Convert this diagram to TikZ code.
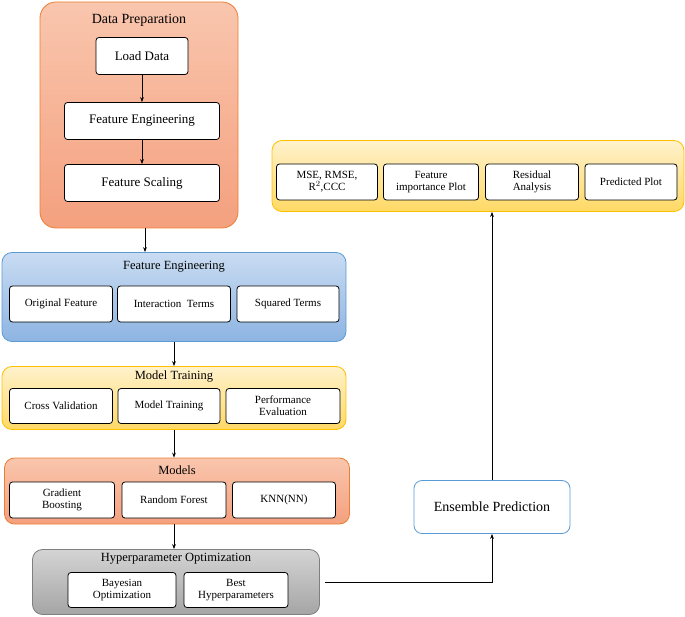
\documentclass[tikz,border=0pt]{standalone}
\usepackage{fontspec}
\setmainfont{Liberation Serif}
\usetikzlibrary{arrows.meta,calc}
\definecolor{orgtop}{HTML}{F9C6AE}
\definecolor{orgbot}{HTML}{F4A07E}
\definecolor{orgline}{HTML}{ED7D31}
\definecolor{blutop}{HTML}{C9DCF2}
\definecolor{blubot}{HTML}{8DB4E2}
\definecolor{bluline}{HTML}{5B9BD5}
\definecolor{yeltop}{HTML}{FFF2CC}
\definecolor{yelbot}{HTML}{FFD966}
\definecolor{yelline}{HTML}{FFC000}
\definecolor{grytop}{HTML}{D4D4D4}
\definecolor{grybot}{HTML}{A5A5A5}
\definecolor{gryline}{HTML}{7F7F7F}
\tikzset{
  panel/.style={rounded corners=10pt, draw=#1line, line width=0.8pt,
    top color=#1top, bottom color=#1bot},
  item/.style={draw, rounded corners=3pt, fill=white, line width=0.8pt,
    align=center, font=\fontsize{11}{12}\selectfont, inner sep=1pt},
  head/.style={font=\fontsize{12.5}{14}\selectfont},
  flow/.style={-{Stealth[length=5pt]}, line width=1pt}
}
\begin{document}
\begin{tikzpicture}[x=1pt,y=-1pt]
\useasboundingbox (0,0) rectangle (685,617);
% data preparation
\node[panel=org, rounded corners=16pt, minimum width=198pt, minimum height=226pt] (prep) at (139,115) {};
\node[head, font=\fontsize{14}{16}\selectfont] at (139,20) {Data Preparation};
\node[item, minimum width=92pt, minimum height=37pt, font=\fontsize{13}{14}\selectfont] (load) at (142,56) {Load Data};
\node[item, minimum width=155pt, minimum height=37pt, font=\fontsize{13}{14}\selectfont] (feng) at (142,121) {Feature Engineering};
\node[item, minimum width=155pt, minimum height=37pt, font=\fontsize{13}{14}\selectfont] (fscale) at (142,183) {Feature Scaling};
\draw[flow] (load) -- (feng);
\draw[flow] (feng) -- (fscale);
% feature engineering
\node[panel=blu, minimum width=344pt, minimum height=89pt] (fe) at (174,297) {};
\node[head] at (174,267) {Feature Engineering};
\node[item, minimum width=103pt, minimum height=36pt] (orig) at (61,304) {Original Feature};
\node[item, minimum width=113pt, minimum height=36pt] (inter) at (174,304) {Interaction\ \ Terms};
\node[item, minimum width=102pt, minimum height=36pt] (sq) at (288,304) {Squared Terms};
\draw[flow] ([xshift=6pt]prep.south) -- ([xshift=6pt]prep.south |- fe.north);
% model training
\node[panel=yel, minimum width=344pt, minimum height=63pt] (mt) at (174,398) {};
\node[head] at (174,377) {Model Training};
\node[item, minimum width=103pt, minimum height=35pt] (cv) at (61,406) {Cross Validation};
\node[item, minimum width=102pt, minimum height=35pt] (mtr) at (169,406) {Model Training};
\node[item, minimum width=114pt, minimum height=35pt] (perf) at (283,406) {Performance\\Evaluation};
\draw[flow] (fe.south) -- (mt.north);
% models
\node[panel=org, minimum width=345pt, minimum height=66pt] (mod) at (177,491) {};
\node[head] at (177,470) {Models};
\node[item, minimum width=105pt, minimum height=36pt] (gb) at (62,500) {Gradient\\Boosting};
\node[item, minimum width=104pt, minimum height=36pt] (rf) at (174,500) {Random Forest};
\node[item, minimum width=103pt, minimum height=36pt] (knn) at (284,500) {KNN(NN)};
\draw[flow] (mt.south) -- (mt.south |- mod.north);
% hyperparameter optimization
\node[panel=gry, minimum width=287pt, minimum height=65pt] (hpo) at (176,582) {};
\node[head] at (176,559) {Hyperparameter Optimization};
\node[item, minimum width=108pt, minimum height=35pt] (bo) at (122,590) {Bayesian\\Optimization};
\node[item, minimum width=104pt, minimum height=35pt] (bh) at (236,590) {Best\\Hyperparameters};
\draw[flow] (mt.south |- mod.south) -- (mt.south |- hpo.north);
% ensemble and results
\node[draw=bluline, line width=0.8pt, rounded corners=8pt, fill=white, minimum width=156pt, minimum height=53pt,
  font=\fontsize{14}{16}\selectfont] (ens) at (492,507) {Ensemble Prediction};
\node[panel=yel, minimum width=412pt, minimum height=71pt] (res) at (478,176) {};
\node[item, minimum width=101pt, minimum height=36pt] (mse) at (327,182) {MSE, RMSE,\\R$^2$,CCC};
\node[item, minimum width=95pt, minimum height=36pt] (fip) at (431,182) {Feature\\importance Plot};
\node[item, minimum width=93pt, minimum height=36pt] (ra) at (532,182) {Residual\\Analysis};
\node[item, minimum width=92pt, minimum height=36pt] (pp) at (631,182) {Predicted Plot};
\coordinate (bend) at (ens.south |- hpo.east);
\draw[flow] ($(hpo.east)+(5,0)$) -- (bend) -- (ens.south);
\draw[flow] (ens.north) -- (ens.north |- res.south);
\end{tikzpicture}
\end{document}
